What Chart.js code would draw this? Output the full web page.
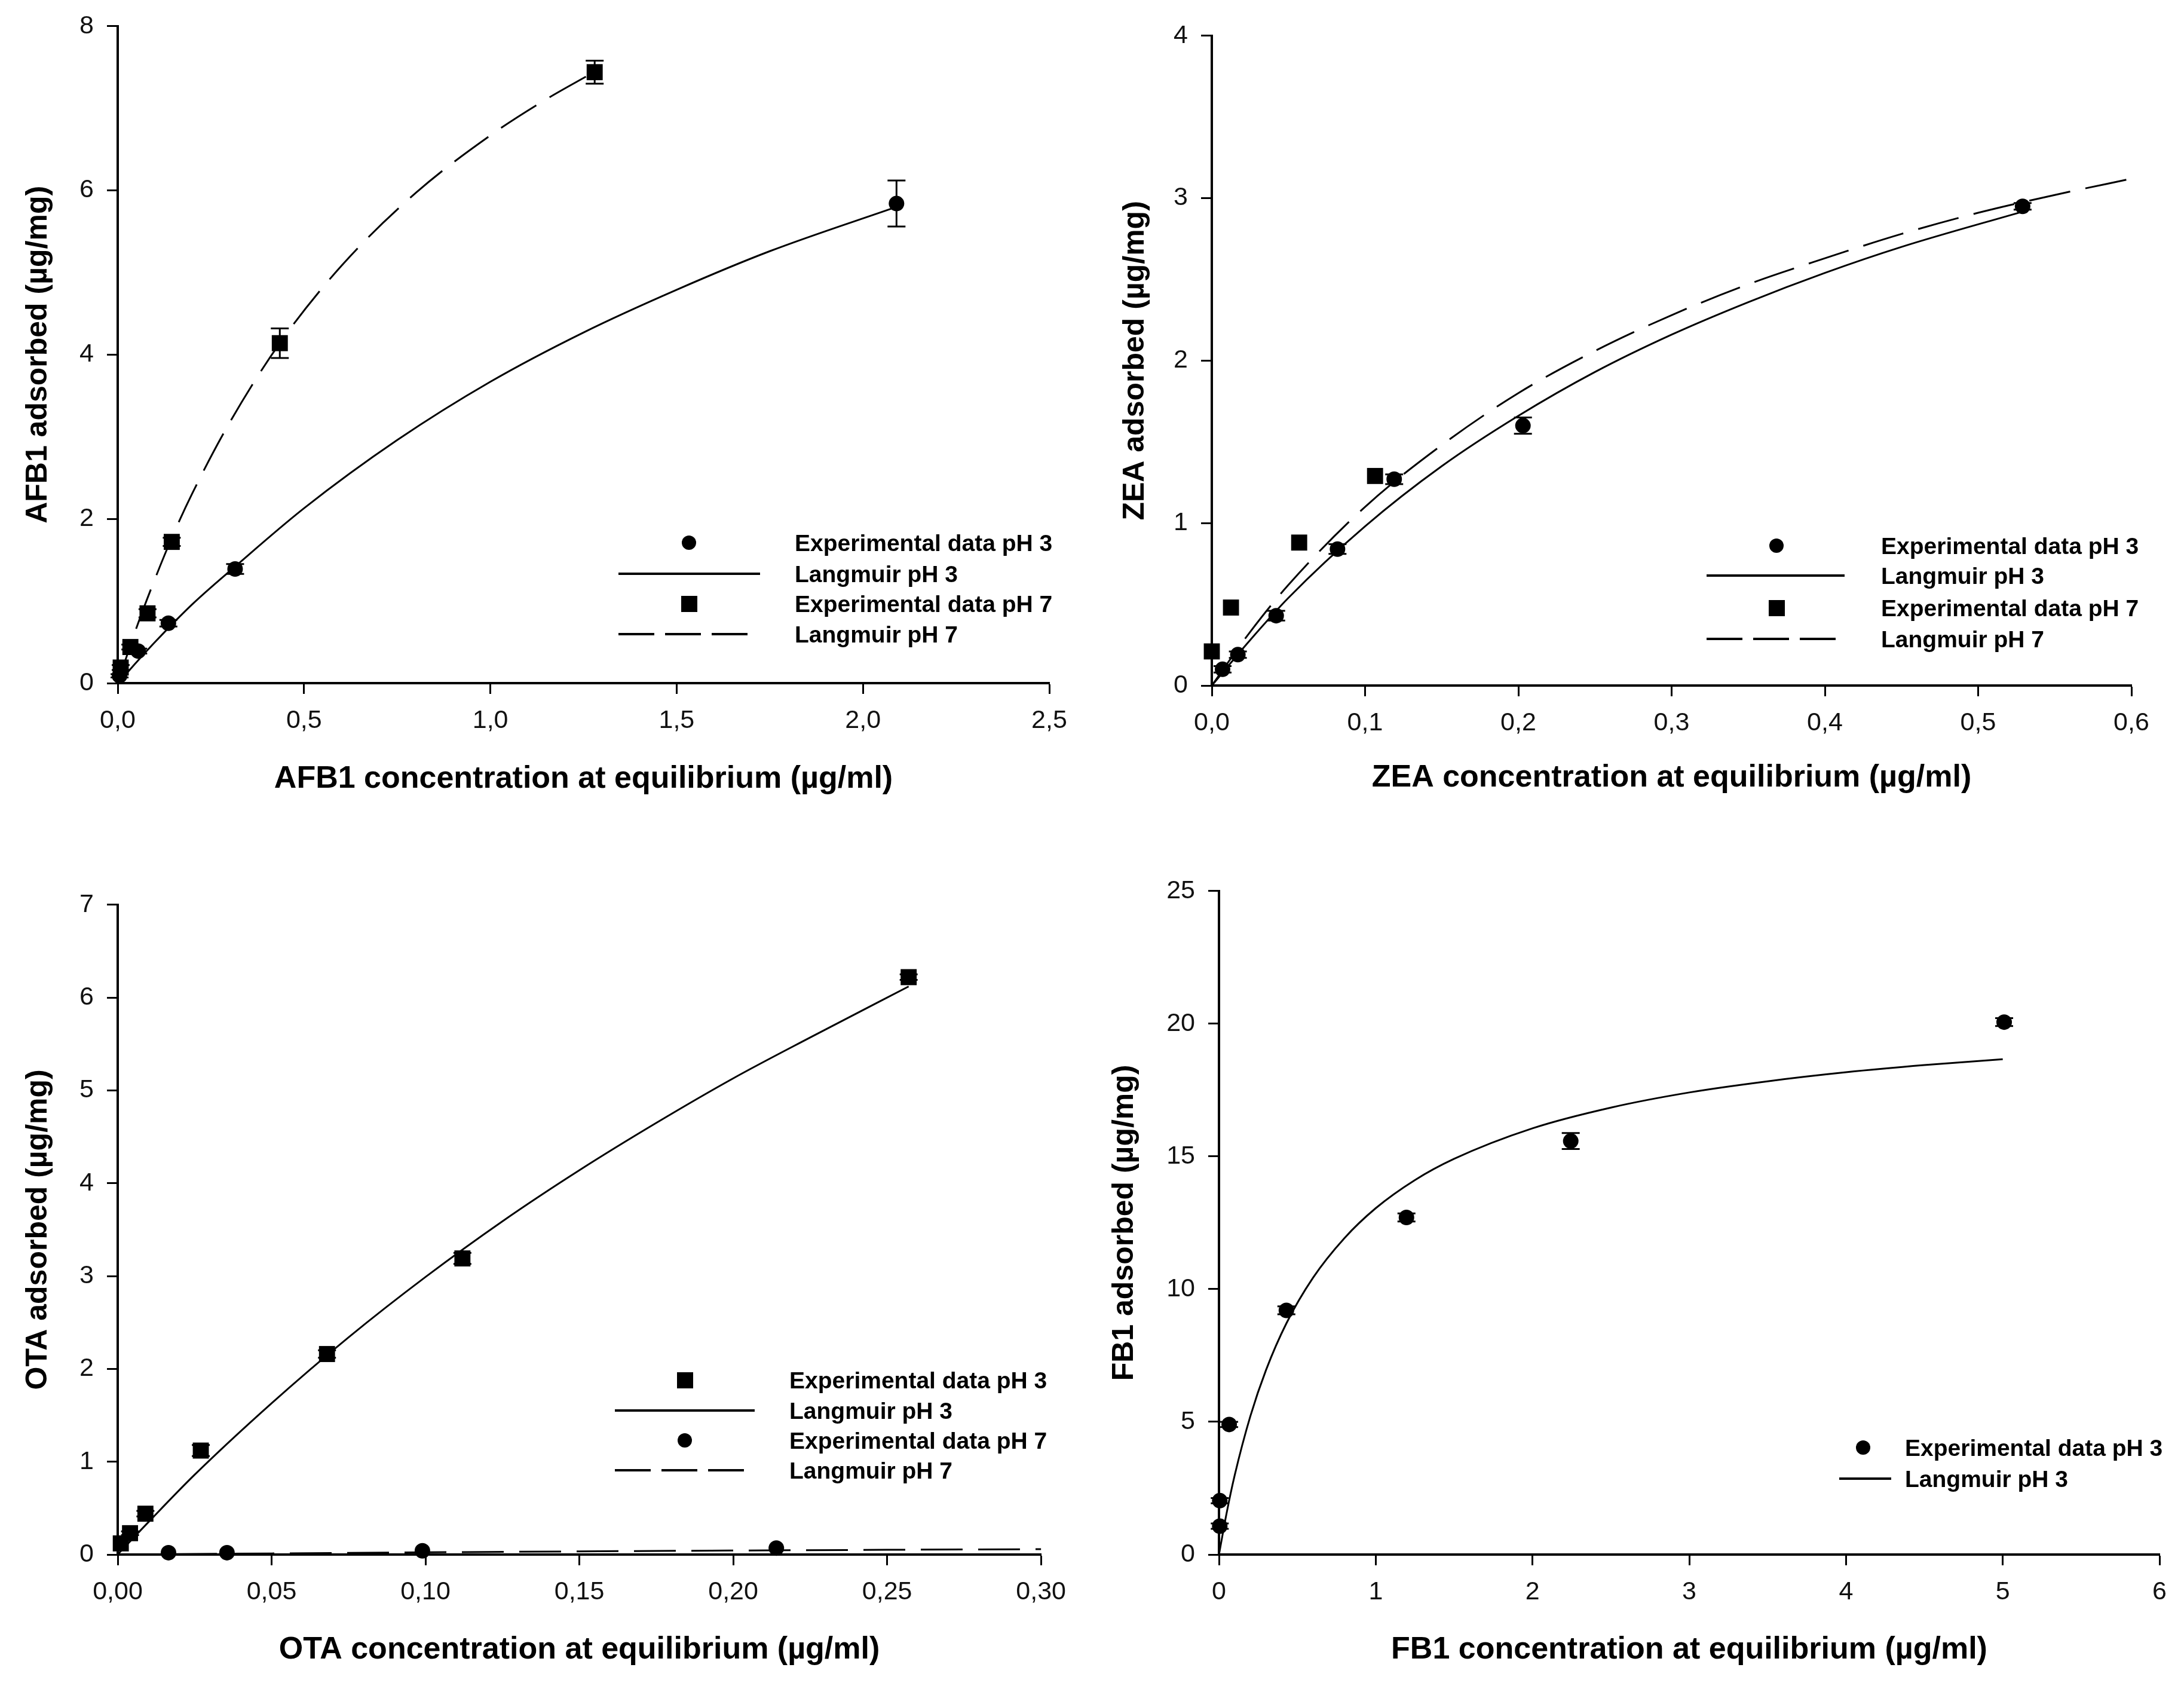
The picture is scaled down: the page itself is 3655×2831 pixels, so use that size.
<!DOCTYPE html>
<html>
<head>
<meta charset="utf-8">
<script src="https://cdn.jsdelivr.net/npm/chart.js@4.4.1/dist/chart.umd.min.js"></script>
<style>
  html, body { margin: 0; padding: 0; background: #fff; }
  body { width: 3655px; height: 2831px; position: relative; overflow: hidden; font-family: "Liberation Sans", Arial, sans-serif; }
  .box { position: absolute; }
  .lg-text { position: absolute; font-weight: bold; font-size: 39px; line-height: 1; color: #000; white-space: nowrap; transform: translateY(-50%); }
  svg.lg { position: absolute; left: 0; top: 0; overflow: visible; }
</style>
</head>
<body>
<svg class="lg" width="3655" height="2831" id="lgsvg"></svg>
<script>
// ---------------- DATA ----------------
// AFB1 panel
const afb1XTicks = [0, 0.5, 1.0, 1.5, 2.0, 2.5];
const afb1XLabels = ['0,0', '0,5', '1,0', '1,5', '2,0', '2,5'];
const afb1YTicks = [0, 2, 4, 6, 8];
const afb1YLabels = ['0', '2', '4', '6', '8'];
const afb1Ph3X = [0.005, 0.055, 0.136, 0.315, 2.09];
const afb1Ph3Y = [0.09, 0.39, 0.73, 1.39, 5.84];
const afb1Ph3Err = [0.02, 0.03, 0.04, 0.06, 0.28];
const afb1Ph7X = [0.008, 0.034, 0.080, 0.145, 0.435, 1.28];
const afb1Ph7Y = [0.19, 0.44, 0.85, 1.72, 4.14, 7.44];
const afb1Ph7Err = [0.03, 0.03, 0.05, 0.05, 0.18, 0.14];
const afb1LangPh3X = [0, 0.1, 0.2, 0.315, 0.5, 0.75, 1.0, 1.25, 1.5, 1.75, 2.09];
const afb1LangPh3Y = [0, 0.50, 0.96, 1.42, 2.13, 2.96, 3.67, 4.27, 4.79, 5.26, 5.80];
const afb1LangPh7X = [0, 0.05, 0.1, 0.15, 0.2, 0.3, 0.435, 0.6, 0.8, 1.0, 1.15, 1.27];
const afb1LangPh7Y = [0, 0.67, 1.27, 1.82, 2.31, 3.17, 4.14, 5.08, 5.97, 6.67, 7.11, 7.42];

// ZEA panel
const zeaXTicks = [0, 0.1, 0.2, 0.3, 0.4, 0.5, 0.6];
const zeaXLabels = ['0,0', '0,1', '0,2', '0,3', '0,4', '0,5', '0,6'];
const zeaYTicks = [0, 1, 2, 3, 4];
const zeaYLabels = ['0', '1', '2', '3', '4'];
const zeaPh3X = [0.007, 0.017, 0.042, 0.082, 0.119, 0.203, 0.529];
const zeaPh3Y = [0.10, 0.19, 0.43, 0.84, 1.27, 1.60, 2.95];
const zeaPh3Err = [0.02, 0.02, 0.03, 0.03, 0.03, 0.05, 0.02];
const zeaPh7X = [0.0, 0.0125, 0.057, 0.1065];
const zeaPh7Y = [0.21, 0.48, 0.88, 1.29];
const zeaLangPh3X = [0, 0.025, 0.05, 0.1, 0.15, 0.2, 0.25, 0.3, 0.35, 0.4, 0.45, 0.53];
const zeaLangPh3Y = [0, 0.28, 0.54, 0.98, 1.35, 1.66, 1.93, 2.16, 2.36, 2.54, 2.70, 2.92];
const zeaLangPh7X = [0, 0.025, 0.05, 0.1, 0.15, 0.2, 0.25, 0.3, 0.35, 0.4, 0.45, 0.5, 0.55, 0.6];
const zeaLangPh7Y = [0, 0.33, 0.62, 1.10, 1.48, 1.80, 2.06, 2.28, 2.47, 2.63, 2.78, 2.91, 3.02, 3.12];

// OTA panel
const otaXTicks = [0, 0.05, 0.10, 0.15, 0.20, 0.25, 0.30];
const otaXLabels = ['0,00', '0,05', '0,10', '0,15', '0,20', '0,25', '0,30'];
const otaYTicks = [0, 1, 2, 3, 4, 5, 6, 7];
const otaYLabels = ['0', '1', '2', '3', '4', '5', '6', '7'];
const otaPh3X = [0.001, 0.004, 0.009, 0.027, 0.068, 0.112, 0.257];
const otaPh3Y = [0.12, 0.23, 0.44, 1.12, 2.16, 3.19, 6.22];
const otaPh3Err = [0, 0.02, 0.03, 0.06, 0.04, 0.06, 0.03];
const otaPh7X = [0.0165, 0.0355, 0.099, 0.214];
const otaPh7Y = [0.02, 0.02, 0.04, 0.07];
const otaLangPh3X = [0, 0.01, 0.025, 0.05, 0.075, 0.1, 0.125, 0.15, 0.175, 0.2, 0.225, 0.257];
const otaLangPh3Y = [0, 0.35, 0.86, 1.63, 2.34, 2.99, 3.59, 4.14, 4.65, 5.13, 5.57, 6.12];
const otaLangPh7X = [0, 0.05, 0.1, 0.15, 0.2, 0.25, 0.3];
const otaLangPh7Y = [0, 0.012, 0.024, 0.034, 0.043, 0.051, 0.058];

// FB1 panel
const fb1XTicks = [0, 1, 2, 3, 4, 5, 6];
const fb1XLabels = ['0', '1', '2', '3', '4', '5', '6'];
const fb1YTicks = [0, 5, 10, 15, 20, 25];
const fb1YLabels = ['0', '5', '10', '15', '20', '25'];
const fb1Ph3X = [0.005, 0.005, 0.065, 0.43, 1.196, 2.244, 5.009];
const fb1Ph3Y = [1.07, 2.03, 4.9, 9.2, 12.70, 15.58, 20.06];
const fb1Ph3Err = [0.1, 0.1, 0.1, 0.15, 0.15, 0.3, 0.15];
const fb1LangPh3X = [0, 0.05, 0.1, 0.2, 0.3, 0.43, 0.6, 0.8, 1.0, 1.25, 1.5, 2.0, 2.5, 3.0, 3.5, 4.0, 4.5, 5.0];
const fb1LangPh3Y = [0, 1.60, 2.98, 5.21, 6.95, 8.71, 10.43, 11.92, 13.05, 14.11, 14.91, 16.06, 16.84, 17.41, 17.83, 18.17, 18.44, 18.66];

// Legend texts
const legend4 = ['Experimental data pH 3', 'Langmuir pH 3', 'Experimental data pH 7', 'Langmuir pH 7'];
const legend2 = ['Experimental data pH 3', 'Langmuir pH 3'];

// ---------------- HELPERS ----------------
const FONT = '"Liberation Sans", Arial, sans-serif';
const Y_W = 190, X_H = 200, PT = 30;
const pts = (xs, ys) => xs.map((x, i) => ({ x: x, y: ys[i] }));
const DASH = [70, 26];

const errorBarPlugin = {
  id: 'errbars',
  afterDatasetsDraw(chart) {
    const ctx = chart.ctx, xs = chart.scales.x, ys = chart.scales.y;
    chart.data.datasets.forEach(ds => {
      if (!ds.errors) return;
      ctx.save();
      ctx.strokeStyle = '#000';
      ctx.lineWidth = 3;
      ds.data.forEach((p, i) => {
        const e = ds.errors[i];
        if (!e) return;
        const px = xs.getPixelForValue(p.x);
        const t = ys.getPixelForValue(p.y + e);
        const b = ys.getPixelForValue(p.y - e);
        ctx.beginPath();
        ctx.moveTo(px, t); ctx.lineTo(px, b);
        ctx.moveTo(px - 15, t); ctx.lineTo(px + 15, t);
        ctx.moveTo(px - 15, b); ctx.lineTo(px + 15, b);
        ctx.stroke();
      });
      ctx.restore();
    });
  }
};

function labelFor(ticks, labels) {
  return function (v) {
    for (let i = 0; i < ticks.length; i++) if (Math.abs(ticks[i] - v) < 1e-9) return labels[i];
    return '';
  };
}

function markerSet(label, xs, ys, errs, style) {
  return {
    label: label, data: pts(xs, ys), errors: errs, showLine: false,
    pointStyle: style, pointRadius: style === 'rect' ? 19 : 13,
    pointBackgroundColor: '#000', pointBorderColor: '#000', pointBorderWidth: 0,
    clip: false
  };
}
function curveSet(label, xs, ys, dashed) {
  return {
    label: label, data: pts(xs, ys), showLine: true, pointRadius: 0,
    borderColor: '#000', borderWidth: 3, borderDash: dashed ? DASH : [],
    cubicInterpolationMode: 'monotone', fill: false, clip: false
  };
}

function chartConfig(pr, scales, datasets) {
  const tickFont = { family: FONT, size: 43 };
  const xTitleFont = { family: FONT, size: 52, weight: 'bold' };
  const yTitleFont = { family: FONT, size: 50, weight: 'bold' };
  return {
    type: 'scatter',
    data: { datasets: datasets },
    plugins: [errorBarPlugin],
    options: {
      responsive: false, maintainAspectRatio: false, animation: false, devicePixelRatio: 1,
      layout: { padding: { top: PT, right: pr, left: 0, bottom: 0 } },
      plugins: { legend: { display: false }, tooltip: { enabled: false } },
      scales: {
        x: {
          type: 'linear', min: scales.xTicks[0], max: scales.xTicks[scales.xTicks.length - 1],
          afterBuildTicks: s => { s.ticks = scales.xTicks.map(v => ({ value: v })); },
          afterFit: s => { s.height = X_H; },
          ticks: { callback: labelFor(scales.xTicks, scales.xLabels), font: tickFont, color: '#111', padding: 19, maxRotation: 0, autoSkip: false },
          grid: { display: true, drawOnChartArea: false, drawTicks: true, tickLength: 18, tickWidth: 3, tickColor: '#000' },
          border: { display: true, color: '#000', width: 4 },
          title: { display: true, text: scales.xTitle, font: xTitleFont, color: '#000', padding: { top: 0, bottom: scales.xPad } }
        },
        y: {
          type: 'linear', min: scales.yTicks[0], max: scales.yTicks[scales.yTicks.length - 1],
          afterBuildTicks: s => { s.ticks = scales.yTicks.map(v => ({ value: v })); },
          afterFit: s => { s.width = Y_W; },
          ticks: { callback: labelFor(scales.yTicks, scales.yLabels), font: tickFont, color: '#111', padding: 22, autoSkip: false },
          grid: { display: true, drawOnChartArea: false, drawTicks: true, tickLength: 18, tickWidth: 3, tickColor: '#000' },
          border: { display: true, color: '#000', width: 4 },
          title: { display: true, text: scales.yTitle, font: yTitleFont, color: '#000', padding: { top: scales.yPad, bottom: 0 } }
        }
      }
    }
  };
}

function buildAt(left, top, w, h, cfg) {
  const div = document.createElement('div');
  div.className = 'box';
  div.style.left = left + 'px';
  div.style.top = top + 'px';
  div.style.width = w + 'px';
  div.style.height = h + 'px';
  const cv = document.createElement('canvas');
  cv.width = w; cv.height = h;
  cv.style.width = w + 'px'; cv.style.height = h + 'px';
  div.appendChild(cv);
  document.body.insertBefore(div, document.getElementById('lgsvg'));
  const chart = new Chart(cv.getContext('2d'), cfg);
  return { div, chart };
}

function makeChart(area, pr, scales, datasets) {
  // first pass: measure where the library puts the plot area inside the canvas
  const w0 = (area.r - area.l) + Y_W + pr;
  const h0 = (area.b - area.t) + PT + X_H;
  const probe = buildAt(0, 0, w0, h0, chartConfig(pr, scales, datasets));
  const ca = probe.chart.chartArea;
  const offL = ca.left, offT = ca.top, offR = w0 - ca.right, offB = h0 - ca.bottom;
  probe.chart.destroy();
  probe.div.remove();
  // final pass: place the canvas so the plot area lands on the target rectangle
  const w = Math.round((area.r - area.l) + offL + offR);
  const h = Math.round((area.b - area.t) + offT + offB);
  buildAt(Math.round(area.l - offL), Math.round(area.t - offT), w, h, chartConfig(pr, scales, datasets));
}

// ---------------- CHARTS ----------------
makeChart({ l: 197, r: 1756, t: 44, b: 1143 }, 60,
  { xTicks: afb1XTicks, xLabels: afb1XLabels, yTicks: afb1YTicks, yLabels: afb1YLabels,
    xTitle: 'AFB1 concentration at equilibrium (µg/ml)', yTitle: 'AFB1 adsorbed (µg/mg)', xPad: 8, yPad: 27 },
  [
    markerSet(legend4[0], afb1Ph3X, afb1Ph3Y, afb1Ph3Err, 'circle'),
    curveSet(legend4[1], afb1LangPh3X, afb1LangPh3Y, false),
    markerSet(legend4[2], afb1Ph7X, afb1Ph7Y, afb1Ph7Err, 'rect'),
    curveSet(legend4[3], afb1LangPh7X, afb1LangPh7Y, true)
  ]);

makeChart({ l: 2028, r: 3567, t: 60, b: 1147 }, 60,
  { xTicks: zeaXTicks, xLabels: zeaXLabels, yTicks: zeaYTicks, yLabels: zeaYLabels,
    xTitle: 'ZEA concentration at equilibrium (µg/ml)', yTitle: 'ZEA adsorbed (µg/mg)', xPad: 14, yPad: 32 },
  [
    markerSet(legend4[0], zeaPh3X, zeaPh3Y, zeaPh3Err, 'circle'),
    curveSet(legend4[1], zeaLangPh3X, zeaLangPh3Y, false),
    markerSet(legend4[2], zeaPh7X, zeaPh7Y, null, 'rect'),
    curveSet(legend4[3], zeaLangPh7X, zeaLangPh7Y, true)
  ]);

makeChart({ l: 197, r: 1742, t: 1514, b: 2601 }, 60,
  { xTicks: otaXTicks, xLabels: otaXLabels, yTicks: otaYTicks, yLabels: otaYLabels,
    xTitle: 'OTA concentration at equilibrium (µg/ml)', yTitle: 'OTA adsorbed (µg/mg)', xPad: 9, yPad: 27 },
  [
    markerSet(legend4[0], otaPh3X, otaPh3Y, otaPh3Err, 'rect'),
    curveSet(legend4[1], otaLangPh3X, otaLangPh3Y, false),
    markerSet(legend4[2], otaPh7X, otaPh7Y, null, 'circle'),
    curveSet(legend4[3], otaLangPh7X, otaLangPh7Y, true)
  ]);

makeChart({ l: 2040, r: 3614, t: 1491, b: 2601 }, 40,
  { xTicks: fb1XTicks, xLabels: fb1XLabels, yTicks: fb1YTicks, yLabels: fb1YLabels,
    xTitle: 'FB1 concentration at equilibrium (µg/ml)', yTitle: 'FB1 adsorbed (µg/mg)', xPad: 9, yPad: 2 },
  [
    markerSet(legend2[0], fb1Ph3X, fb1Ph3Y, fb1Ph3Err, 'circle'),
    curveSet(legend2[1], fb1LangPh3X, fb1LangPh3Y, false)
  ]);

// ---------------- LEGENDS (HTML/SVG) ----------------
const svg = document.getElementById('lgsvg');
const NS = 'http://www.w3.org/2000/svg';
function svgEl(tag, attrs) {
  const e = document.createElementNS(NS, tag);
  for (const k in attrs) e.setAttribute(k, attrs[k]);
  svg.appendChild(e);
}
function legendText(x, y, text) {
  const d = document.createElement('div');
  d.className = 'lg-text';
  d.style.left = x + 'px'; d.style.top = y + 'px';
  d.textContent = text;
  document.body.appendChild(d);
}
function legendRow(kind, sx, lx1, lx2, tx, y, text) {
  if (kind === 'circle') svgEl('circle', { cx: sx, cy: y, r: 12, fill: '#000' });
  if (kind === 'rect') svgEl('rect', { x: sx - 13, y: y - 13, width: 27, height: 27, fill: '#000' });
  if (kind === 'solid') svgEl('line', { x1: lx1, y1: y, x2: lx2, y2: y, stroke: '#000', 'stroke-width': 4 });
  if (kind === 'dash') svgEl('line', { x1: lx1, y1: y, x2: lx2, y2: y, stroke: '#000', 'stroke-width': 4, 'stroke-dasharray': '60 18' });
  legendText(tx, y, text);
}
// AFB1
legendRow('circle', 1153, 0, 0, 1330, 908, legend4[0]);
legendRow('solid', 0, 1035, 1272, 1330, 960, legend4[1]);
legendRow('rect', 1153, 0, 0, 1330, 1010, legend4[2]);
legendRow('dash', 0, 1035, 1252, 1330, 1061, legend4[3]);
// ZEA
legendRow('circle', 2973, 0, 0, 3148, 913, legend4[0]);
legendRow('solid', 0, 2856, 3087, 3148, 963, legend4[1]);
legendRow('rect', 2973, 0, 0, 3148, 1017, legend4[2]);
legendRow('dash', 0, 2856, 3072, 3148, 1069, legend4[3]);
// OTA
legendRow('rect', 1146, 0, 0, 1321, 2309, legend4[0]);
legendRow('solid', 0, 1029, 1263, 1321, 2360, legend4[1]);
legendRow('circle', 1146, 0, 0, 1321, 2410, legend4[2]);
legendRow('dash', 0, 1029, 1245, 1321, 2460, legend4[3]);
// FB1
legendRow('circle', 3118, 0, 0, 3188, 2422, legend2[0]);
legendRow('solid', 0, 3078, 3165, 3188, 2474, legend2[1]);
</script>
</body>
</html>
